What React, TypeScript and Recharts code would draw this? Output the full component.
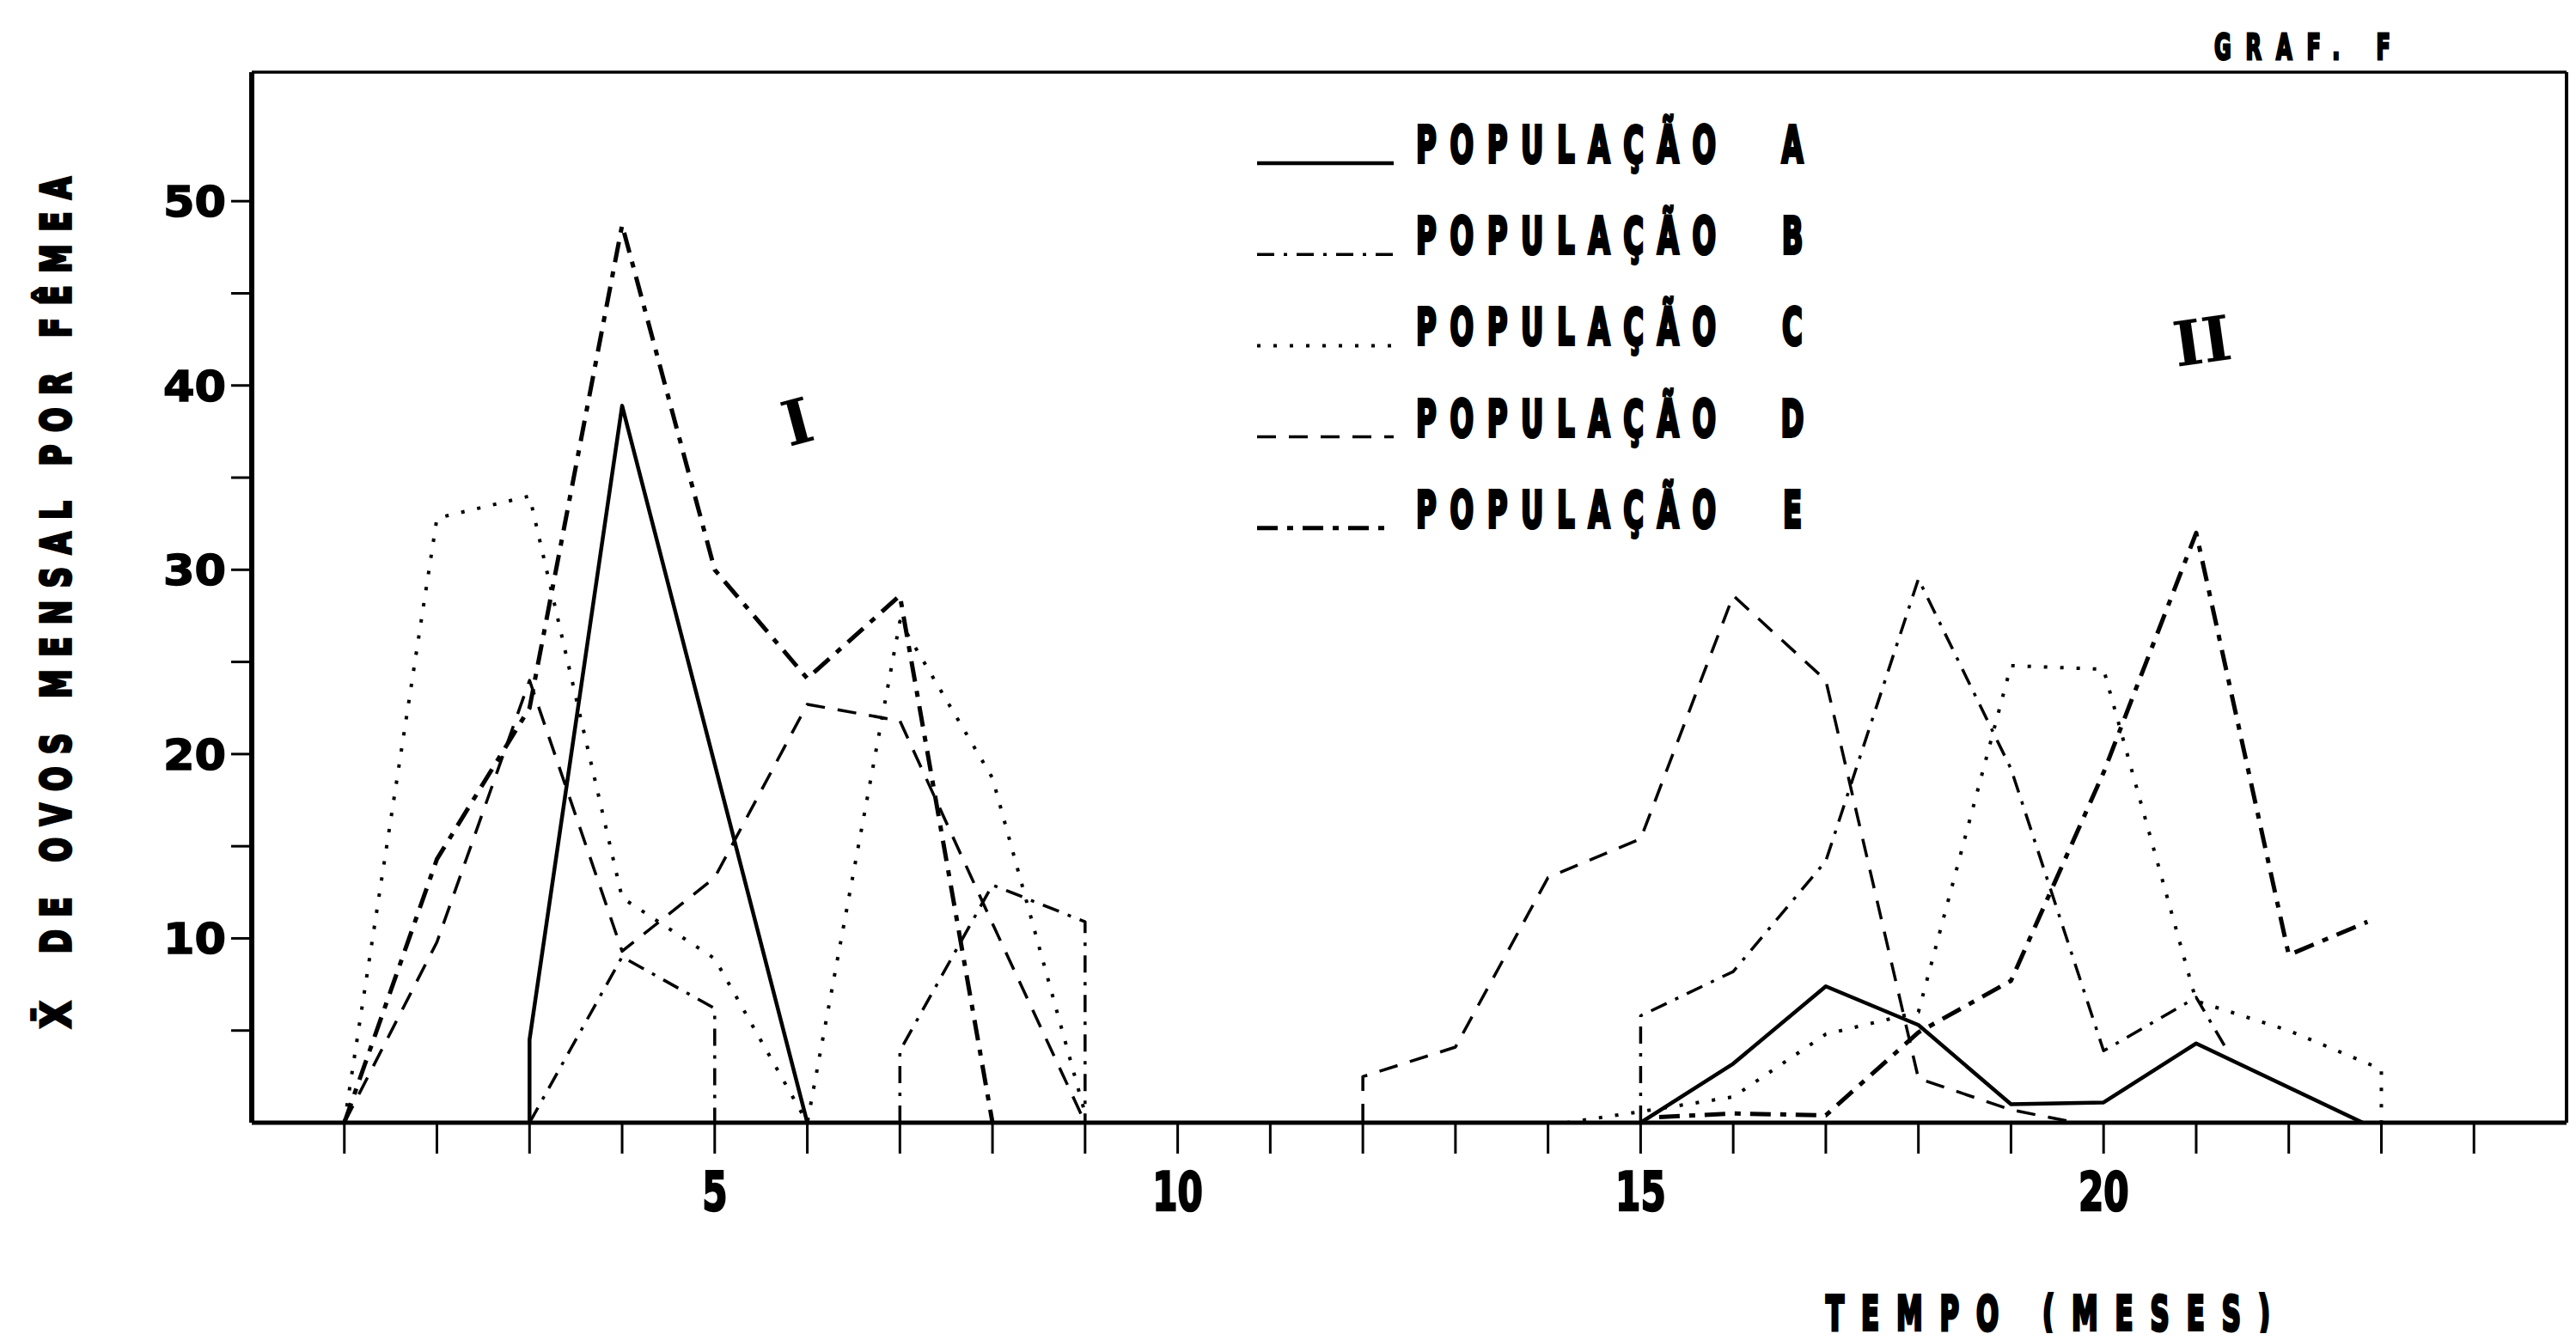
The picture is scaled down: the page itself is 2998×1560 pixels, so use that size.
import React from 'react';
import { LineChart, Line, XAxis, YAxis, ReferenceLine, Legend } from 'recharts';

// ---- data (month, mean eggs per female per month) ----
const popA = [
  { mes: 3, v: 0 }, { mes: 3, v: 4.5 }, { mes: 4, v: 38.9 }, { mes: 6, v: 0 }, { mes: 10, v: null },
  { mes: 15, v: 0 }, { mes: 16, v: 3.2 }, { mes: 17, v: 7.4 }, { mes: 18, v: 5.3 }, { mes: 19, v: 1.0 },
  { mes: 20, v: 1.1 }, { mes: 21, v: 4.3 }, { mes: 22.8, v: 0 },
];
const popB = [
  { mes: 3, v: 0 }, { mes: 4, v: 9.0 }, { mes: 5, v: 6.2 }, { mes: 5, v: 0 }, { mes: 6, v: null },
  { mes: 7, v: 0 }, { mes: 7, v: 3.9 }, { mes: 8, v: 12.9 }, { mes: 9, v: 10.9 }, { mes: 9, v: 0 }, { mes: 12, v: null },
  { mes: 15, v: 0 }, { mes: 15, v: 5.8 }, { mes: 16, v: 8.2 }, { mes: 17, v: 14.2 }, { mes: 18, v: 29.5 },
  { mes: 19, v: 19.2 }, { mes: 20, v: 3.9 }, { mes: 21, v: 6.8 }, { mes: 21.35, v: 3.8 },
];
const popC = [
  { mes: 1, v: 0 }, { mes: 2, v: 32.8 }, { mes: 3, v: 34.0 }, { mes: 4, v: 12.2 }, { mes: 5, v: 8.9 },
  { mes: 6, v: 0 }, { mes: 7, v: 27.2 }, { mes: 8, v: 18.7 }, { mes: 9, v: 0.5 }, { mes: 11, v: null },
  { mes: 14.2, v: 0 }, { mes: 15, v: 0.6 }, { mes: 16, v: 1.4 }, { mes: 17, v: 4.8 }, { mes: 18, v: 6.0 },
  { mes: 19, v: 24.8 }, { mes: 20, v: 24.6 }, { mes: 21, v: 6.6 }, { mes: 22, v: 5.0 }, { mes: 23, v: 2.9 }, { mes: 23, v: 0 },
];
const popD = [
  { mes: 1, v: 0 }, { mes: 2, v: 9.8 }, { mes: 3, v: 24.0 }, { mes: 4, v: 9.3 }, { mes: 5, v: 13.3 },
  { mes: 6, v: 22.7 }, { mes: 7, v: 21.8 }, { mes: 8, v: 10.8 }, { mes: 9, v: 0 }, { mes: 10, v: null },
  { mes: 12, v: 0 }, { mes: 12, v: 2.5 }, { mes: 13, v: 4.1 }, { mes: 14, v: 13.3 }, { mes: 15, v: 15.4 },
  { mes: 16, v: 28.6 }, { mes: 17, v: 24.0 }, { mes: 18, v: 2.4 }, { mes: 19, v: 0.7 }, { mes: 19.7, v: 0 },
];
const popE = [
  { mes: 1, v: 0 }, { mes: 2, v: 14.3 }, { mes: 3, v: 22.5 }, { mes: 4, v: 48.7 }, { mes: 5, v: 30.0 },
  { mes: 6, v: 24.1 }, { mes: 7, v: 28.6 }, { mes: 8, v: 0 }, { mes: 10, v: null },
  { mes: 15.2, v: 0.3 }, { mes: 16, v: 0.5 }, { mes: 17, v: 0.4 }, { mes: 18, v: 4.9 }, { mes: 19, v: 7.7 },
  { mes: 20, v: 19.0 }, { mes: 21, v: 32.0 }, { mes: 22, v: 9.1 }, { mes: 22.85, v: 10.9 },
];

const MONTH_TICKS = [1, 2, 3, 4, 5, 6, 7, 8, 9, 10, 11, 12, 13, 14, 15, 16, 17, 18, 19, 20, 21, 22, 23, 24];
const MONTH_LABELS = [5, 10, 15, 20];
const VALUE_TICKS = [5, 10, 15, 20, 25, 30, 35, 40, 45, 50];
const VALUE_LABELS = [10, 20, 30, 40, 50];
const SERIES_NAMES = ['A', 'B', 'C', 'D', 'E'];

const STYLES: Record<string, { w: number; dash?: string }> = {
  A: { w: 4.5 },
  B: { w: 3.5, dash: '20 11 4 11' },
  C: { w: 4, dash: '4 15' },
  D: { w: 3.5, dash: '22 15' },
  E: { w: 5, dash: '24 11 7 11' },
};
const DATA: Record<string, any[]> = { A: popA, B: popB, C: popC, D: popD, E: popE };

const W = 2982;
const H = 1544;
const FONT = 'DejaVu Sans';

function XTick(props: any) {
  const { x, y, payload } = props;
  if (!MONTH_LABELS.includes(payload.value)) return <g />;
  return (
    <text transform={`translate(${x},${y + 66}) scale(0.68,1)`} textAnchor="middle"
      fontFamily={FONT} fontWeight="bold" fontSize={62} fill="#000" stroke="#000" strokeWidth={2.5}>
      {payload.value}
    </text>
  );
}

function YTick(props: any) {
  const { x, y, payload } = props;
  if (!VALUE_LABELS.includes(payload.value)) return <g />;
  return (
    <text transform={`translate(${x},${y + 18}) scale(1.05,1)`} textAnchor="end" fontFamily={FONT}
      fontWeight="bold" fontSize={50} fill="#000" stroke="#000" strokeWidth={1.5}>
      {payload.value}
    </text>
  );
}

function LegendBox() {
  return (
    <svg width={700} height={520} style={{ display: 'block', overflow: 'visible' }}>
      {SERIES_NAMES.map((k, i) => {
        const yb = 59 + 106.2 * i;
        const st = STYLES[k];
        return (
          <g key={k}>
            <line x1={23} x2={182} y1={yb + 1} y2={yb + 1} stroke="#000" strokeWidth={st.w}
              strokeDasharray={st.dash} />
            <text transform={`translate(208,${yb}) scale(0.55,1)`} fontFamily={FONT} fontWeight="bold"
              fontSize={59} textLength={349 / 0.55} lengthAdjust="spacing" fill="#000" stroke="#000"
              strokeWidth={4}>POPULAÇÃO</text>
            <text transform={`translate(646,${yb}) scale(0.55,1)`} textAnchor="middle" fontFamily={FONT}
              fontWeight="bold" fontSize={59} fill="#000" stroke="#000" strokeWidth={4}>{k}</text>
          </g>
        );
      })}
    </svg>
  );
}

export default function App() {
  return (
    <div style={{ position: 'relative', width: W, height: H, background: '#fff' }}>
      <LineChart width={W} height={H} margin={{ top: 76, right: 3, bottom: 0, left: 0 }}>
        <XAxis type="number" dataKey="mes" domain={[0, 25]} ticks={MONTH_TICKS} interval={0}
          allowDataOverflow height={245} tickSize={36} tickMargin={0}
          axisLine={{ stroke: '#000', strokeWidth: 5 }} tickLine={{ stroke: '#000', strokeWidth: 3 }}
          tick={<XTick />} />
        <YAxis type="number" domain={[0, 57]} ticks={VALUE_TICKS} interval={0} allowDataOverflow
          width={285} tickSize={24} tickMargin={6}
          axisLine={{ stroke: '#000', strokeWidth: 6 }} tickLine={{ stroke: '#000', strokeWidth: 3 }}
          tick={<YTick />} />
        <ReferenceLine y={57} stroke="#000" strokeWidth={3.5} />
        <ReferenceLine x={25} stroke="#000" strokeWidth={4} />
        {SERIES_NAMES.map((k) => (
          <Line key={k} data={DATA[k]} dataKey="v" name={`POPULAÇÃO ${k}`} type="linear"
            stroke="#000" strokeWidth={STYLES[k].w} strokeDasharray={STYLES[k].dash}
            strokeLinejoin="round" dot={false} activeDot={false} isAnimationActive={false}
            connectNulls={false} />
        ))}
        <Legend layout="horizontal" verticalAlign="middle" align="center" content={<LegendBox />}
          wrapperStyle={{ position: 'absolute', left: 1432, top: 122, width: 700, height: 520 }} />
      </LineChart>
      <svg width={W} height={H} style={{ position: 'absolute', left: 0, top: 0, pointerEvents: 'none', overflow: 'visible' }}>
        <text transform="translate(74,1189) rotate(-90) scale(0.85,1)" fontFamily={FONT} fontWeight="bold"
          fontSize={48} fill="#000" stroke="#000" strokeWidth={3}>X̄</text>
        <text transform="translate(74,1102) rotate(-90) scale(0.7,1)" fontFamily={FONT} fontWeight="bold"
          fontSize={48} textLength={904 / 0.7} lengthAdjust="spacing" fill="#000" stroke="#000"
          strokeWidth={3.5}>DE OVOS MENSAL POR FÊMEA</text>
        <text transform="translate(2569,61) scale(0.6,1)" fontFamily={FONT} fontWeight="bold" fontSize={40}
          textLength={205 / 0.6} lengthAdjust="spacing" fill="#000" stroke="#000" strokeWidth={3}>GRAF. F</text>
        <text transform="translate(2117,1540) scale(0.55,1)" fontFamily={FONT} fontWeight="bold" fontSize={56}
          textLength={517 / 0.55} lengthAdjust="spacing" fill="#000" stroke="#000" strokeWidth={4}>TEMPO (MESES)</text>
        <text transform="translate(920,483) rotate(-15)" textAnchor="middle" dominantBaseline="central"
          fontFamily="DejaVu Serif" fontWeight="bold" fontSize={72} fill="#000">I</text>
        <text transform="translate(2555,389) rotate(-8)" textAnchor="middle" dominantBaseline="central"
          fontFamily="DejaVu Serif" fontWeight="bold" fontSize={72} fill="#000">II</text>
      </svg>
    </div>
  );
}
